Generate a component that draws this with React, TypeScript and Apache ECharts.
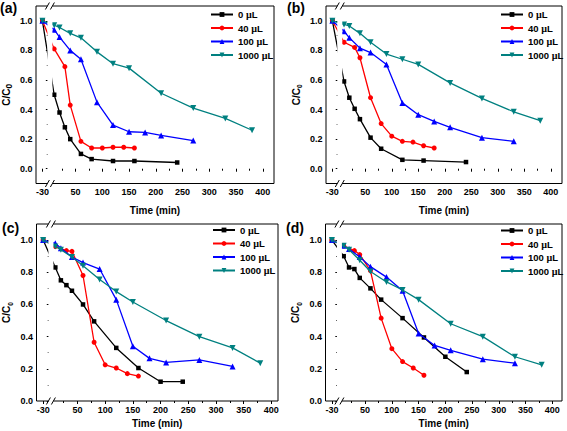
import React, { useEffect, useRef } from 'react';
import * as echarts from 'echarts';

// ---- data ----
const LABELS = ['0 µL', '40 µL', '100 µL', '1000 µL'];
const PANEL_TAGS = ['(a)', '(b)', '(c)', '(d)'];
const X_TICKS = [-30, 50, 100, 150, 200, 250, 300, 350, 400];
const X_MINOR = [25, 75, 125, 175, 225, 275, 325, 375];
const Y_TICKS = [0, 0.2, 0.4, 0.6, 0.8, 1.0];
const Y_MINOR = [0.1, 0.3, 0.5, 0.7, 0.9];

const T_0_AB = [-30, 10, 20, 30, 40, 60, 80, 120, 160, 240];
const T_0_CD = [-30, 10, 20, 30, 40, 60, 80, 120, 160, 200, 240];
const T_40 = [-30, 10, 30, 40, 60, 80, 100, 120, 140, 160];
const T_40_B = [-30, 10, 30, 40, 60, 80, 100, 120, 140, 160, 180];
const T_100_A = [-30, 10, 20, 40, 60, 90, 120, 150, 180, 210, 270];
const T_100 = [-30, 10, 20, 40, 60, 90, 120, 150, 180, 210, 270, 330];
const T_1000 = [-30, 10, 20, 40, 60, 90, 120, 150, 210, 270, 330, 380];

const A_0 = [1.0, 0.5, 0.38, 0.28, 0.2, 0.1, 0.065, 0.052, 0.052, 0.042];
const A_40 = [1.0, 0.81, 0.69, 0.43, 0.185, 0.14, 0.14, 0.145, 0.145, 0.14];
const A_100 = [1.0, 0.94, 0.89, 0.8, 0.74, 0.45, 0.295, 0.25, 0.245, 0.225, 0.19];
const A_1000 = [1.0, 0.97, 0.955, 0.915, 0.885, 0.79, 0.71, 0.68, 0.51, 0.41, 0.34, 0.26];

const B_0 = [1.0, 0.59, 0.48, 0.405, 0.335, 0.21, 0.135, 0.06, 0.055, 0.045];
const B_40 = [1.0, 0.855, 0.82, 0.75, 0.48, 0.305, 0.22, 0.185, 0.18, 0.155, 0.14];
const B_100 = [1.0, 0.93, 0.885, 0.815, 0.785, 0.705, 0.445, 0.365, 0.32, 0.28, 0.21, 0.185];
const B_1000 = [1.0, 0.975, 0.965, 0.915, 0.855, 0.775, 0.74, 0.705, 0.58, 0.475, 0.385, 0.325];

const C_0 = [1.0, 0.83, 0.75, 0.72, 0.685, 0.6, 0.495, 0.33, 0.205, 0.12, 0.12];
const C_40 = [1.0, 0.96, 0.935, 0.93, 0.78, 0.365, 0.225, 0.205, 0.17, 0.155];
const C_100 = [1.0, 0.98, 0.95, 0.895, 0.86, 0.82, 0.63, 0.34, 0.265, 0.24, 0.255, 0.215];
const C_1000 = [1.0, 0.96, 0.94, 0.895, 0.84, 0.755, 0.68, 0.615, 0.5, 0.4, 0.33, 0.235];

const D_0 = [1.0, 0.9, 0.83, 0.82, 0.765, 0.7, 0.63, 0.515, 0.395, 0.275, 0.18];
const D_40 = [1.0, 0.965, 0.935, 0.91, 0.81, 0.515, 0.325, 0.245, 0.205, 0.16];
const D_100 = [1.0, 0.965, 0.945, 0.895, 0.835, 0.77, 0.685, 0.42, 0.345, 0.315, 0.26, 0.235];
const D_1000 = [1.0, 0.965, 0.94, 0.875, 0.805, 0.74, 0.69, 0.63, 0.48, 0.4, 0.275, 0.225];

const PANEL_TIMES = [
  [T_0_AB, T_40, T_100_A, T_1000],
  [T_0_AB, T_40_B, T_100, T_1000],
  [T_0_CD, T_40, T_100, T_1000],
  [T_0_CD, T_40, T_100, T_1000],
];
const PANEL_VALUES = [
  [A_0, A_40, A_100, A_1000],
  [B_0, B_40, B_100, B_1000],
  [C_0, C_40, C_100, C_1000],
  [D_0, D_40, D_100, D_1000],
];
const X_MIN = -42;
const X_MAX = [421, 421, 412, 418];
const Y_MIN = [-0.1, -0.1, 0, 0];
const Y_MAX = 1.1;
const BREAK_AT = 2;

// ---- styling / layout ----
const COLORS = ['#000000', '#ff0000', '#0000ff', '#008080'];
const SYMBOLS = ['rect', 'circle', 'triangle', 'path://M0,0 L10,0 L5,8.7 Z'];
const SYMBOL_SIZES = [4.5, 5, 6, 6];
const FONT = 'Liberation Sans, Arial, Helvetica, sans-serif';
const GRIDS = [
  { left: 36, top: 6, width: 238, height: 177.5 },
  { left: 326, top: 6, width: 236, height: 177.5 },
  { left: 36.5, top: 224, width: 241.5, height: 177 },
  { left: 325.5, top: 224, width: 236.5, height: 177 },
];
const X_NAME_GAP = [22, 22, 17.5, 17.5];
const LEGEND_POS = [
  { left: 210, top: 9 },
  { left: 500, top: 9 },
  { left: 212, top: 224.5 },
  { left: 500, top: 225 },
];
const TAG_POS = [
  { x: 0, y: 1 },
  { x: 287, y: 1 },
  { x: 2, y: 221 },
  { x: 286, y: 221 },
];

const renderBreak = (_params: any, api: any) => {
  const top = api.coord([api.value(0), api.value(2)]);
  const bot = api.coord([api.value(0), api.value(1)]);
  const x = top[0];
  const half = 2.5;
  const slash = (cx: number, cy: number) => ({
    type: 'line',
    shape: { x1: cx - 2, y1: cy + 3.5, x2: cx + 2, y2: cy - 3.5 },
    style: { stroke: '#000', lineWidth: 1 },
  });
  return {
    type: 'group',
    children: [
      {
        type: 'rect',
        shape: { x: x - half, y: top[1] - 1, width: half * 2, height: bot[1] - top[1] + 2 },
        style: { fill: '#fff' },
      },
      slash(x - half, top[1]),
      slash(x + half, top[1]),
      slash(x - half, bot[1]),
      slash(x + half, bot[1]),
    ],
  };
};

function buildOption() {
  const grid: any[] = [];
  const xAxis: any[] = [];
  const yAxis: any[] = [];
  const series: any[] = [];
  const legend: any[] = [];
  const graphic: any[] = [];
  const labelStyle = { fontSize: 9, fontWeight: 'bold', color: '#000', fontFamily: FONT };

  GRIDS.forEach((g, i) => {
    grid.push({ ...g, show: true, borderColor: '#000', borderWidth: 1, backgroundColor: 'transparent' });
    const brk = {
      breaks: [{ start: -27, end: -3, gap: 6 }],
      breakArea: { show: false },
    };
    xAxis.push({
      type: 'value',
      gridIndex: i,
      position: 'bottom',
      min: X_MIN,
      max: X_MAX[i],
      ...brk,
      axisLine: { show: false },
      splitLine: { show: false },
      axisTick: { show: true, customValues: X_TICKS, length: 3, lineStyle: { color: '#000', width: 1 } },
      axisLabel: { customValues: X_TICKS, margin: 4, ...labelStyle },
      name: 'Time (min)',
      nameLocation: 'middle',
      nameGap: X_NAME_GAP[i],
      nameTextStyle: { fontSize: 10, fontWeight: 'bold', color: '#000', fontFamily: FONT },
    });
    xAxis.push({
      type: 'value',
      gridIndex: i,
      position: 'bottom',
      min: X_MIN,
      max: X_MAX[i],
      ...brk,
      axisLine: { show: false },
      splitLine: { show: false },
      axisTick: { show: true, customValues: X_MINOR, length: 2, lineStyle: { color: '#000', width: 1 } },
      axisLabel: { show: false },
    });
    yAxis.push({
      type: 'value',
      gridIndex: i,
      position: 'left',
      min: Y_MIN[i],
      max: Y_MAX,
      axisLine: { show: false },
      splitLine: { show: false },
      axisTick: { show: true, customValues: Y_TICKS, length: 3, lineStyle: { color: '#000', width: 1 } },
      axisLabel: {
        customValues: Y_TICKS,
        margin: 3.5,
        formatter: (v: number) => v.toFixed(1),
        ...labelStyle,
      },
      name: '{a|C/C}{s|0}',
      nameLocation: 'middle',
      nameGap: 23,
      nameTextStyle: {
        rich: {
          a: { fontSize: 10, fontWeight: 'bold', color: '#000', fontFamily: FONT, lineHeight: 14 },
          s: {
            fontSize: i === 0 ? 8.5 : 6.5,
            fontWeight: 'bold',
            color: '#000',
            fontFamily: FONT,
            lineHeight: 8,
            verticalAlign: 'bottom',
          },
        },
      },
    });
    yAxis.push({
      type: 'value',
      gridIndex: i,
      position: 'left',
      min: Y_MIN[i],
      max: Y_MAX,
      axisLine: { show: false },
      splitLine: { show: false },
      axisTick: { show: true, customValues: Y_MINOR, length: 2, lineStyle: { color: '#000', width: 1 } },
      axisLabel: { show: false },
    });

    PANEL_TIMES[i].forEach((times, s) => {
      const vals = PANEL_VALUES[i][s];
      series.push({
        type: 'line',
        name: LABELS[s],
        xAxisIndex: 2 * i,
        yAxisIndex: 2 * i,
        data: times.map((t, k) => [t, vals[k]]),
        symbol: SYMBOLS[s],
        symbolSize: SYMBOL_SIZES[s],
        showAllSymbol: true,
        color: COLORS[s],
        lineStyle: { color: COLORS[s], width: 1.3 },
        itemStyle: { color: COLORS[s] },
        z: 2 + s,
      });
    });

    series.push({
      type: 'custom',
      xAxisIndex: 2 * i,
      yAxisIndex: 2 * i,
      silent: true,
      clip: false,
      z: 20,
      data: [[BREAK_AT, Y_MIN[i], Y_MAX]],
      renderItem: renderBreak,
    });

    legend.push({
      ...LEGEND_POS[i],
      orient: 'vertical',
      padding: 0,
      data: LABELS,
      selectedMode: false,
      itemWidth: 22,
      itemHeight: 6,
      itemGap: 2.5,
      formatter: (name: string) => name.replace('µ', '{m|µ}'),
      textStyle: {
        fontSize: 9.5,
        fontWeight: 'bold',
        color: '#000',
        fontFamily: FONT,
        lineHeight: 11,
        rich: {
          m: { fontSize: 10, fontFamily: 'Liberation Serif, DejaVu Serif, serif', color: '#000', lineHeight: 11 },
        },
      },
    });

    graphic.push({
      type: 'text',
      left: TAG_POS[i].x,
      top: TAG_POS[i].y,
      style: { text: PANEL_TAGS[i], fontSize: 14, fontWeight: 'bold', fill: '#000', fontFamily: FONT },
    });
  });

  return {
    animation: false,
    backgroundColor: '#fff',
    grid,
    xAxis,
    yAxis,
    series,
    legend,
    graphic,
  };
}

export default function App() {
  const ref = useRef<HTMLDivElement>(null);
  useEffect(() => {
    if (!ref.current) return;
    const chart = echarts.init(ref.current, null, { renderer: 'svg' });
    chart.setOption(buildOption() as any);
    return () => chart.dispose();
  }, []);
  return (
    <div
      ref={ref}
      style={{ position: 'fixed', left: 0, top: 0, width: 567, height: 431, background: '#fff' }}
    />
  );
}
